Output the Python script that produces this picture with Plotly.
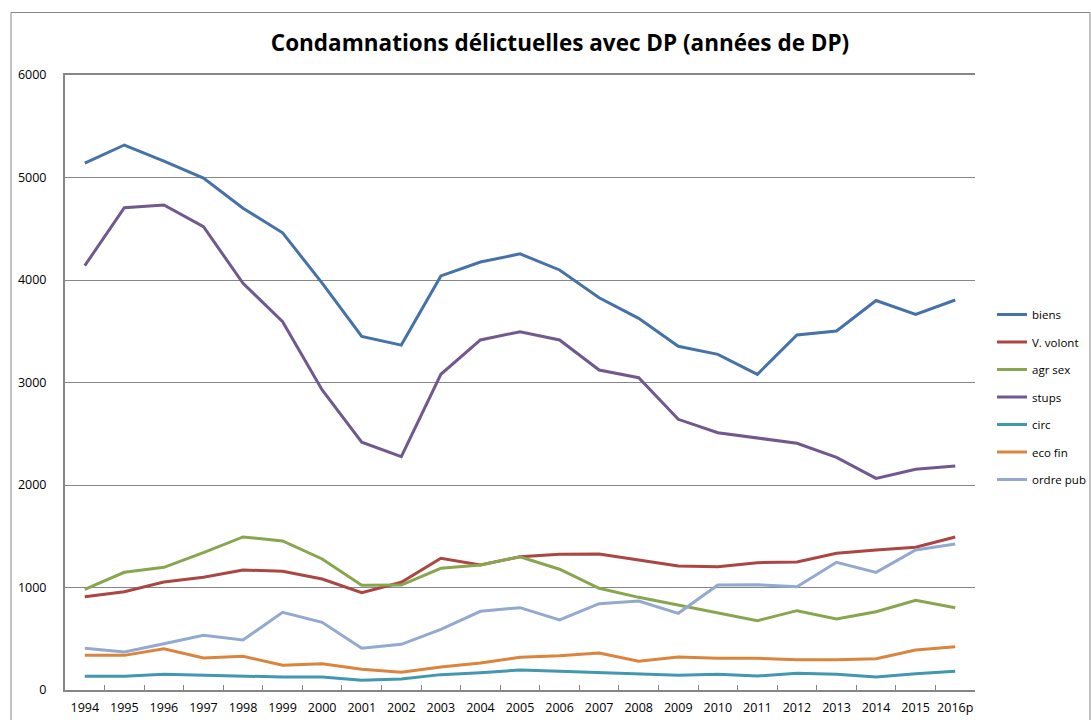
import plotly.graph_objects as go

years = ["1994", "1995", "1996", "1997", "1998", "1999", "2000", "2001", "2002", "2003",
         "2004", "2005", "2006", "2007", "2008", "2009", "2010", "2011", "2012", "2013",
         "2014", "2015", "2016p"]

biens = [5140, 5317, 5160, 4995, 4700, 4460, 3970, 3450, 3365, 4040, 4175, 4255,
         4098, 3827, 3626, 3353, 3275, 3080, 3463, 3502, 3800, 3665, 3805]
v_volont = [910, 959, 1054, 1100, 1171, 1158, 1083, 949, 1051, 1285, 1220, 1300,
            1324, 1327, 1268, 1210, 1203, 1242, 1249, 1334, 1366, 1392, 1493]
agr_sex = [982, 1148, 1197, 1340, 1493, 1454, 1278, 1021, 1024, 1187, 1220, 1300,
           1178, 992, 904, 829, 758, 676, 774, 693, 764, 875, 803]
stups = [4140, 4705, 4732, 4520, 3968, 3593, 2927, 2417, 2276, 3080, 3415, 3496,
         3415, 3122, 3047, 2641, 2510, 2456, 2407, 2270, 2065, 2153, 2185]
circ = [134, 134, 153, 143, 130, 127, 127, 95, 107, 150, 169, 195,
        182, 169, 156, 143, 153, 137, 163, 153, 127, 159, 182]
eco_fin = [338, 338, 403, 312, 329, 241, 257, 202, 173, 224, 263, 319,
           335, 361, 280, 322, 309, 309, 296, 296, 305, 390, 422]
ordre_pub = [407, 371, 452, 534, 488, 758, 660, 407, 446, 592, 768, 803,
             683, 842, 868, 748, 1024, 1027, 1008, 1246, 1148, 1366, 1424]

series_names = ["biens", "V. volont", "agr sex", "stups", "circ", "eco fin", "ordre pub"]
series_values = [biens, v_volont, agr_sex, stups, circ, eco_fin, ordre_pub]
colors = ["#4572A7", "#AA4643", "#89A54E", "#71588F", "#4198AF", "#DB843D", "#93A9CF"]

fig = go.Figure()
for i, (name, vals, col) in enumerate(zip(series_names, series_values, colors)):
    fig.add_trace(go.Scatter(
        x=years, y=vals, name=name, mode="lines",
        line=dict(color=col, width=3),
        legendgroup=f"g{i}",
    ))

L, R, T, B = 65, 116, 75, 30
W, H = 1091, 720
pw, ph = W - L - R, H - T - B

fig.update_layout(
    width=W, height=H,
    margin=dict(l=L, r=R, t=T, b=B, autoexpand=False),
    paper_bgcolor="white", plot_bgcolor="white",
    font=dict(family="Open Sans, sans-serif", size=12, color="black"),
    title=dict(
        text="<b>Condamnations délictuelles avec DP (années de DP)</b>",
        x=560 / W, xanchor="center", y=1 - 43 / H, yanchor="middle",
        font=dict(size=22.5, family="Open Sans, sans-serif", color="black"),
    ),
    legend=dict(
        xref="container", yref="container",
        x=992 / W, xanchor="left", y=1 - 300 / H, yanchor="top",
        font=dict(size=11.5, family="Open Sans, sans-serif"),
        tracegroupgap=8.5, traceorder="grouped",
        itemwidth=30, bgcolor="rgba(0,0,0,0)",
    ),
    xaxis=dict(
        type="category", range=[-0.5, len(years) - 0.5],
        showgrid=False, showline=True, linecolor="#868686", linewidth=2,
        mirror=True,
        ticks="inside", tickson="boundaries", ticklen=5, tickcolor="#868686",
        tickangle=0,
        tickfont=dict(size=12.5, family="Open Sans, sans-serif"),
        ticklabelstandoff=5,
    ),
    yaxis=dict(
        range=[0, 6000], dtick=1000, tick0=0,
        showgrid=True, gridcolor="#868686", gridwidth=1,
        showline=True, linecolor="#868686", linewidth=2,
        ticks="", zeroline=False,
        tickfont=dict(size=12.5, family="Open Sans, sans-serif"),
        ticklabelstandoff=14,
    ),
    shapes=[
        dict(type="rect", xref="paper", yref="paper",
             x0=(11 - L) / pw, x1=(1090 - L) / pw,
             y0=(H - B - 730) / ph, y1=(H - B - 12.5) / ph,
             line=dict(color="#868686", width=1), fillcolor="rgba(0,0,0,0)",
             layer="below"),
    ],
)

fig.write_html("out.html",
               config={"displayModeBar": False},
               post_script="document.body.style.margin='0px';document.body.style.overflow='hidden';")
